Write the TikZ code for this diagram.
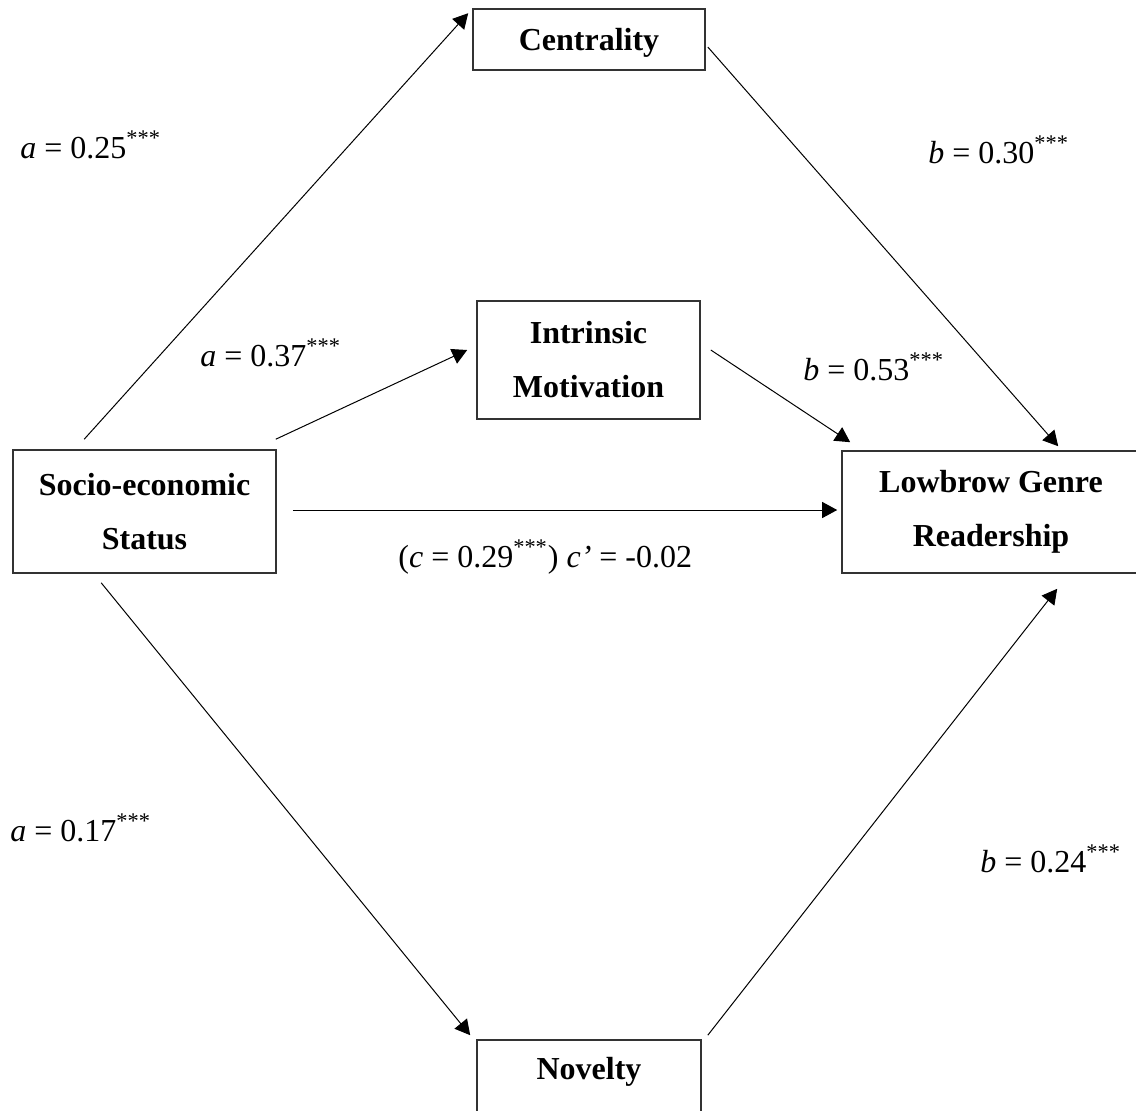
\documentclass[tikz,border=0pt]{standalone}
\usepackage{fontspec}
\setmainfont{Liberation Serif}
\usetikzlibrary{arrows.meta}

\begin{document}
\begin{tikzpicture}[x=0.5pt,y=-0.5pt,
            box/.style={shape=rectangle, draw=black!80, line width=0.8pt, align=center, inner sep=0pt,
                font=\fontsize{16}{27}\selectfont\bfseries},
            path/.style={line width=0.5pt, -{Triangle[length=7.5pt,width=8pt]}},
            coef/.style={anchor=base west, inner sep=0pt, font=\fontsize{16}{19}\selectfont}]
        \useasboundingbox (0,0) rectangle (1136,1110);
        \clip (0,0) rectangle (1136,1110);

        \node[box, minimum width=116pt, minimum height=30.5pt, text height=11pt, text depth=0.5pt] (cen) at (589,39.5) {Centrality};
        \node[box, minimum width=111.5pt, minimum height=59pt] (int) at (588.5,360) {Intrinsic\\Motivation};
        \node[box, minimum width=131.5pt, minimum height=61.5pt] (ses) at (144.5,511.5) {Socio-economic\\Status};
        \node[box, minimum width=149pt, minimum height=61pt] (low) at (991,512) {Lowbrow Genre\\Readership};
        \node[box, minimum width=112pt, minimum height=40pt, text height=10pt, text depth=11pt] (nov) at (589,1080) {Novelty};

        % paths a
        \draw[path] ([shift={(72,-10)}]ses.north west) -- ([shift={(-4,5)}]cen.north west);
        \draw[path] ([shift={(-1,-10)}]ses.north east) -- ([shift={(-9,-10)}]int.west);
        \draw[path] ([shift={(89,9)}]ses.south west) -- ([shift={(-6,-4)}]nov.north west);
        % paths b
        \draw[path] ([shift={(2,7.5)}]cen.east) -- ([shift={(217,-4)}]low.north west);
        \draw[path] ([shift={(10,-10)}]int.east) -- ([shift={(9,-8)}]low.north west);
        \draw[path] ([shift={(6,-4)}]nov.north east) -- ([shift={(216,15)}]low.south west);
        % path c
        \draw[path] ([shift={(16,-1.5)}]ses.east) -- ([shift={(-4,-2)}]low.west);

        \node[coef] (a1) at (20,158) {\textit{a} = 0.25\textsuperscript{***}};
        \node[coef] (b1) at (928,163) {\textit{b} = 0.30\textsuperscript{***}};
        \node[coef] (a2) at (200,366) {\textit{a} = 0.37\textsuperscript{***}};
        \node[coef] (b2) at (803,380) {\textit{b} = 0.53\textsuperscript{***}};
        \node[coef] (c) at (398,567) {(\textit{c} = 0.29\textsuperscript{***}) \textit{c’} = -0.02};
        \node[coef] (a3) at (10,841) {\textit{a} = 0.17\textsuperscript{***}};
        \node[coef] (b3) at (980,872) {\textit{b} = 0.24\textsuperscript{***}};
    \end{tikzpicture}
\end{document}
